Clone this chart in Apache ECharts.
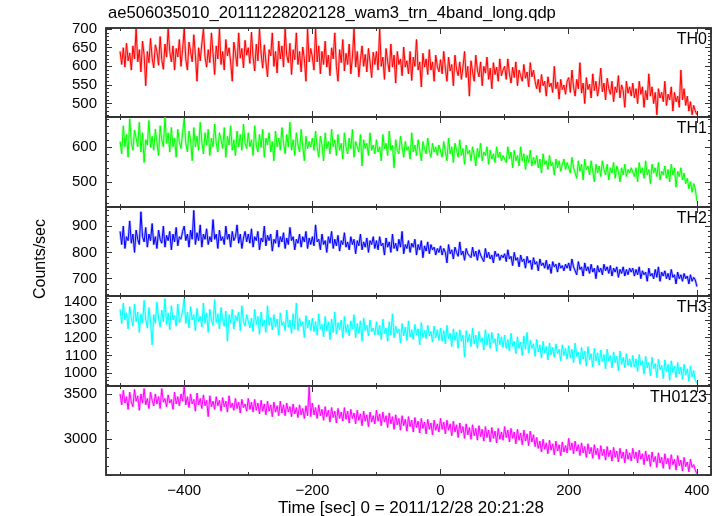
<!DOCTYPE html>
<html>
<head>
<meta charset="utf-8">
<script src="https://cdn.jsdelivr.net/npm/echarts@6/dist/echarts.min.js"></script>
<style>
html,body{margin:0;padding:0;background:#fff;}
#chart{width:723px;height:516px;}
</style>
</head>
<body>
<div id="chart"></div>
<script>
// ---- data (2.5-second bins) ----
const titleText = "ae506035010_20111228202128_wam3_trn_4band_long.qdp";
const xAxisTitle = "Time [sec] 0 = 2011/12/28 20:21:28";
const yAxisTitle = "Counts/sec";
const bandNames = ["TH0", "TH1", "TH2", "TH3", "TH0123"];
const binStart = -500;   // sec, first bin
const binSize = 2.5;     // sec

const TH0 = [
640,605,650,598,662,615,636,590,655,620,700,612,645,585,668,630,548,640,610,675,
622,596,658,640,603,680,618,592,660,625,700,640,612,655,590,648,625,672,600,645,
700,620,590,665,640,612,685,630,560,650,615,660,700,625,598,645,610,690,635,578,
655,620,700,605,640,590,672,628,650,612,560,665,635,600,690,622,648,596,670,630,
650,608,692,625,588,660,615,700,635,595,658,612,572,645,628,690,600,640,582,668,
620,655,598,700,630,610,662,578,645,618,690,605,640,585,652,620,560,700,612,648,
625,590,700,612,655,580,640,605,668,598,630,575,650,620,690,600,560,645,610,672,
588,635,605,660,580,625,700,598,640,572,618,655,600,632,585,648,612,570,638,605,
640,590,700,600,625,565,648,612,585,660,598,630,555,640,605,620,575,652,598,615,
580,640,562,625,600,672,590,612,545,635,598,620,578,645,590,612,560,630,600,585,
618,580,640,595,560,625,588,605,548,630,592,575,612,565,598,640,570,600,520,615,
585,560,630,590,572,612,548,600,582,625,565,595,540,610,578,598,560,620,575,590,
600,565,620,580,555,598,570,612,548,590,575,560,605,568,585,545,610,572,590,560,
540,565,530,578,548,560,520,572,545,555,530,600,540,558,512,565,538,550,525,560,
570,530,590,545,520,565,540,610,528,555,500,570,538,552,515,580,535,560,520,548,
595,532,555,510,568,540,525,560,505,545,530,575,515,550,535,490,560,528,545,520,
555,515,540,500,560,525,545,490,535,510,580,520,545,500,530,470,540,515,530,505,
560,495,525,510,545,480,530,505,520,490,590,510,540,495,520,480,505,470,495,480,
470];

const TH1 = [
615,580,660,600,635,570,680,612,590,648,625,600,670,585,640,555,620,605,675,598,
630,590,650,612,575,660,620,600,685,610,640,585,655,600,625,570,650,615,595,640,
680,610,585,645,620,560,655,600,630,590,670,615,580,640,605,650,575,625,600,665,
610,585,640,620,595,655,570,630,605,660,590,620,575,645,600,635,590,665,610,595,
640,600,620,575,660,605,585,635,598,650,570,625,605,640,585,615,560,645,600,625,
590,655,610,580,635,600,670,590,620,575,640,605,585,650,600,560,630,595,615,600,
625,590,645,600,570,630,605,560,640,595,615,580,650,600,620,575,635,590,610,565,
640,600,580,625,595,650,570,615,600,585,635,545,620,595,610,575,640,590,605,580,
620,585,600,560,635,595,610,575,645,590,605,540,620,590,580,630,600,570,615,590,
600,565,640,585,605,575,620,590,560,615,595,580,625,590,570,610,585,600,575,605,
600,570,615,585,560,625,580,600,555,610,590,570,620,575,595,550,605,580,590,560,
600,575,545,595,570,610,560,585,575,600,550,590,565,580,555,600,570,585,560,575,
580,555,600,565,585,540,590,560,575,545,600,560,580,535,575,555,590,545,570,550,
575,540,565,525,580,550,560,535,575,545,555,520,565,540,560,530,550,565,535,555,
555,525,570,540,545,510,560,530,550,505,565,535,545,520,560,530,500,550,525,545,
515,560,535,520,550,505,540,525,555,510,545,530,500,540,520,550,515,535,525,540,
545,515,540,500,555,525,540,510,560,520,535,495,550,525,540,515,555,505,530,520,
545,510,535,500,550,520,540,485,530,515,540,505,525,495,510,480,500,470,495,480,
445];

const TH2 = [
880,830,900,815,860,845,920,835,870,800,885,850,830,955,860,840,895,820,870,845,
910,830,860,815,885,850,835,900,820,865,845,880,810,870,840,895,825,860,850,880,
900,845,870,820,885,850,960,830,875,845,905,820,870,850,890,830,860,840,925,850,
870,815,885,845,860,830,900,850,870,820,880,845,860,905,835,870,815,855,880,840,
870,835,890,820,860,845,880,810,855,840,900,825,865,845,870,805,850,835,885,820,
860,840,875,815,855,830,895,845,860,810,850,835,870,820,860,840,880,815,855,830,
860,825,905,840,850,810,870,830,845,800,860,835,880,815,850,825,865,805,845,830,
875,820,840,810,860,830,850,795,845,825,870,810,840,820,855,800,845,830,860,815,
845,810,860,825,835,790,855,820,840,800,870,815,835,805,850,820,880,795,830,815,
845,800,835,820,850,790,830,810,845,780,825,805,840,795,830,810,820,790,815,800,
825,790,815,800,760,830,795,810,775,820,800,785,840,790,805,770,815,795,800,780,
820,785,805,770,810,790,795,765,815,780,800,775,790,760,805,785,795,770,790,780,
795,765,810,775,785,750,800,770,780,745,790,765,775,740,785,760,770,735,780,755,
765,730,775,750,760,740,770,735,755,720,765,745,755,725,760,740,750,730,755,740,
760,730,775,745,750,715,765,735,745,710,760,730,745,720,755,725,740,700,750,725,
740,715,755,730,745,720,750,710,740,725,745,705,735,720,745,710,735,715,740,725,
740,710,735,715,745,700,730,715,725,690,740,710,720,700,735,705,745,690,725,710,
730,700,720,695,735,705,715,680,725,700,715,690,720,700,710,680,715,690,705,695,
670];

const TH3 = [
1360,1280,1395,1300,1340,1250,1375,1310,1265,1390,1290,1345,1230,1335,1285,1410,1300,1255,1370,1295,
1160,1330,1280,1400,1310,1260,1355,1290,1420,1275,1340,1245,1380,1300,1325,1265,1390,1285,1310,1350,
1420,1280,1345,1255,1375,1300,1330,1240,1365,1290,1320,1260,1395,1280,1340,1230,1360,1300,1270,1415,
1285,1335,1250,1370,1300,1265,1350,1180,1330,1285,1360,1250,1325,1295,1345,1240,1380,1290,1265,1330,
1335,1255,1310,1235,1360,1275,1320,1220,1345,1265,1300,1230,1380,1270,1315,1245,1330,1260,1305,1215,
1340,1270,1290,1240,1355,1260,1300,1225,1335,1250,1395,1240,1310,1265,1290,1200,1325,1255,1300,1240,
1310,1235,1290,1215,1335,1250,1275,1205,1320,1240,1290,1190,1305,1230,1345,1220,1285,1245,1300,1200,
1320,1230,1275,1210,1295,1250,1330,1200,1280,1225,1295,1180,1310,1240,1270,1210,1300,1235,1255,1215,
1290,1215,1270,1190,1305,1225,1255,1180,1290,1215,1335,1200,1265,1225,1250,1170,1280,1210,1260,1185,
1295,1205,1245,1190,1275,1215,1250,1160,1285,1200,1240,1195,1270,1210,1235,1175,1265,1200,1245,1185,
1255,1180,1240,1165,1270,1195,1225,1150,1250,1185,1230,1140,1245,1180,1215,1090,1240,1175,1220,1150,
1255,1165,1215,1140,1235,1175,1200,1130,1245,1160,1220,1140,1230,1170,1195,1125,1225,1160,1205,1145,
1215,1140,1190,1125,1225,1150,1180,1110,1205,1140,1175,1100,1210,1135,1230,1115,1185,1140,1165,1095,
1190,1120,1160,1085,1180,1115,1150,1075,1170,1105,1145,1090,1165,1110,1135,1070,1160,1100,1140,1080,
1155,1085,1135,1060,1170,1095,1120,1050,1145,1080,1125,1040,1150,1075,1110,1035,1140,1070,1115,1045,
1130,1065,1105,1025,1135,1070,1100,1030,1120,1060,1095,1015,1125,1050,1090,1030,1110,1045,1080,1035,
1100,1035,1080,1010,1105,1045,1070,995,1095,1030,1060,985,1090,1025,1055,975,1080,1020,1045,970,
1075,1010,1050,960,1070,1005,1040,975,1060,995,1035,965,1050,990,1025,955,1040,980,1015,960,
945];

const TH0123 = [
3500,3380,3540,3400,3470,3330,3520,3410,3360,3550,3420,3480,3320,3500,3400,3560,3380,3450,3340,3520,
3430,3370,3500,3390,3470,3340,3560,3410,3450,3360,3490,3400,3440,3330,3520,3390,3470,3370,3500,3420,
3580,3380,3470,3350,3500,3390,3440,3310,3510,3380,3450,3340,3490,3370,3430,3250,3480,3360,3420,3330,
3470,3370,3430,3310,3460,3360,3420,3300,3480,3350,3400,3320,3450,3340,3410,3290,3440,3350,3390,3310,
3450,3330,3410,3300,3440,3320,3400,3280,3430,3310,3390,3270,3420,3310,3380,3250,3410,3300,3370,3260,
3420,3290,3380,3260,3400,3300,3360,3250,3390,3280,3350,3240,3380,3270,3340,3230,3370,3260,3580,3250,
3400,3270,3350,3230,3380,3260,3330,3210,3360,3250,3320,3190,3350,3240,3310,3180,3340,3230,3300,3200,
3350,3220,3310,3180,3330,3230,3290,3170,3320,3210,3280,3150,3310,3200,3270,3140,3300,3190,3260,3170,
3320,3200,3280,3150,3300,3190,3260,3130,3290,3170,3250,3110,3270,3160,3230,3100,3260,3150,3220,3090,
3250,3140,3210,3080,3240,3130,3200,3070,3230,3120,3190,3060,3220,3110,3180,3050,3210,3100,3170,3080,
3230,3110,3190,3060,3210,3100,3170,3040,3200,3080,3160,3020,3180,3070,3140,3010,3170,3050,3130,3000,
3160,3040,3120,2990,3150,3030,3110,2980,3140,3020,3100,2970,3130,3010,3090,2960,3120,3000,3080,2990,
3140,3020,3100,2970,3120,3010,3080,2950,3110,2990,3070,2940,3100,2980,3060,2930,3090,2970,3050,2920,
3020,2900,2980,2860,3000,2890,2960,2840,2990,2880,2950,2830,2980,2870,2940,2820,2970,2860,2930,2850,
3010,2880,2960,2840,2980,2870,2940,2820,2960,2850,2920,2800,2950,2840,2910,2790,2940,2830,2900,2780,
2930,2820,2890,2770,2920,2810,2880,2760,2910,2800,2870,2750,2900,2790,2860,2740,2890,2780,2850,2760,
2900,2790,2860,2740,2880,2780,2840,2720,2870,2760,2830,2700,2860,2750,2810,2690,2850,2740,2800,2680,
2840,2730,2790,2670,2830,2720,2780,2660,2820,2710,2770,2650,2800,2700,2750,2640,2780,2690,2720,2660,
2620];

const seriesValues = [TH0, TH1, TH2, TH3, TH0123];
const seriesColors = ["#ff0000", "#00ff00", "#0000ff", "#00ffff", "#ff00ff"];
const yMins = [464, 428, 634, 928, 2606];
const yMaxs = [703, 685, 973, 1435, 3588];
const yMajor = [50, 100, 100, 100, 500];
const ySplit = [5, 3, 3, 5, 2];
const xMin = -522, xMax = 422, xMajor = 200;

// ---- layout ----
const FONT = "Liberation Sans, Arial, Helvetica, sans-serif";
const gridTops = [28, 117, 207, 296, 386];
const gridHeights = [89, 90, 89, 90, 89];
const gridLeft = 106, gridRight = 12;

const grids = [], xAxes = [], yAxes = [], series = [], graphics = [];
const minus = v => String(v).replace('-', '\u2212');

for (let i = 0; i < 5; i++) {
  grids.push({left: gridLeft, right: gridRight, top: gridTops[i], height: gridHeights[i],
    show: true, borderColor: '#333', borderWidth: 1.5, backgroundColor: 'transparent'});
  const isLast = i === 4;
  const xCommon = {type: 'value', gridIndex: i, min: xMin, max: xMax, splitNumber: 5,
    axisLine: {show: true, onZero: false, lineStyle: {color: '#333', width: 1.5}},
    axisTick: {show: true, inside: true, length: 6, lineStyle: {color: '#333', width: 1}},
    minorTick: {show: true, splitNumber: 2, length: 3, lineStyle: {color: '#333', width: 1}},
    splitLine: {show: false}, minorSplitLine: {show: false}};
  xAxes.push(Object.assign({}, xCommon, {position: 'bottom',
    axisLabel: {show: isLast, color: '#000', fontSize: 15, fontFamily: FONT, margin: 8,
      formatter: v => (Math.abs(v % xMajor) < 1e-6 ? minus(v) : '')}}));
  xAxes.push(Object.assign({}, xCommon, {position: 'top', axisLabel: {show: false}}));
  const yCommon = {type: 'value', gridIndex: i, min: yMins[i], max: yMaxs[i], splitNumber: ySplit[i],
    axisLine: {show: true, onZero: false, lineStyle: {color: '#333', width: 1.5}},
    axisTick: {show: true, inside: true, length: 6, lineStyle: {color: '#333', width: 1}},
    minorTick: {show: true, splitNumber: 5, length: 3, lineStyle: {color: '#333', width: 1}},
    splitLine: {show: false}, minorSplitLine: {show: false}};
  yAxes.push(Object.assign({}, yCommon, {position: 'left',
    axisLabel: {show: true, color: '#000', fontSize: 15, fontFamily: FONT, margin: 9,
      formatter: v => (Math.abs(v % yMajor[i]) < 1e-6 ? String(v) : '')}}));
  yAxes.push(Object.assign({}, yCommon, {position: 'right', axisLabel: {show: false}}));

  const pts = seriesValues[i].map((v, k) => [binStart + k * binSize, v]);
  // faint halo (error-bar look) under the main line
  series.push({type: 'line', xAxisIndex: 2 * i, yAxisIndex: 2 * i, data: pts,
    showSymbol: false, symbol: 'none', animation: false, silent: true,
    lineStyle: {color: seriesColors[i], width: 2.6, opacity: 0.3}, clip: true, z: 1});
  series.push({type: 'line', xAxisIndex: 2 * i, yAxisIndex: 2 * i, data: pts,
    showSymbol: false, symbol: 'none', animation: false,
    lineStyle: {color: seriesColors[i], width: 1}, itemStyle: {color: seriesColors[i]},
    clip: true, z: 2});

  graphics.push({type: 'text', right: gridRight + 4, top: gridTops[i] + 4,
    style: {text: bandNames[i], fill: '#000', font: '16px ' + FONT, textAlign: 'right'}});
}

graphics.push({type: 'text', left: gridLeft + 2, top: 5,
  style: {text: titleText, fill: '#000', font: '16.6px ' + FONT}});
graphics.push({type: 'text', x: 411, y: 508,
  style: {text: xAxisTitle, fill: '#000', font: '17px ' + FONT, textAlign: 'center', textVerticalAlign: 'middle'}});
graphics.push({type: 'text', x: 41, y: 259, rotation: Math.PI / 2,
  style: {text: yAxisTitle, fill: '#000', font: '16px ' + FONT, textAlign: 'center', textVerticalAlign: 'middle'}});

const chart = echarts.init(document.getElementById('chart'), null, {renderer: 'canvas'});
chart.setOption({
  animation: false,
  backgroundColor: '#fff',
  grid: grids, xAxis: xAxes, yAxis: yAxes, series: series,
  graphic: graphics
});
</script>
</body>
</html>
